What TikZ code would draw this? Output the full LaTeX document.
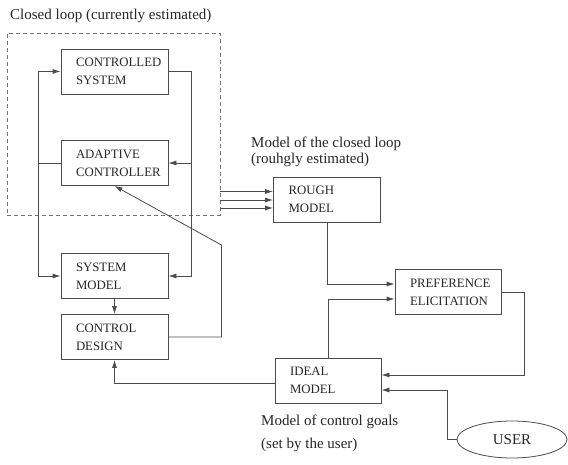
\documentclass[tikz,border=0pt]{standalone}
\usepackage{fontspec}
\setmainfont{Liberation Serif}
\usetikzlibrary{arrows.meta,calc,shapes.geometric}
\newcommand\twolines[2]{\hspace*{15pt}#1\\\hspace*{15pt}#2}
\begin{document}
\begin{tikzpicture}[x=1pt,y=-1pt,
  blk/.style={draw=black!70,line width=0.8pt,rectangle,minimum height=45pt,text width=107pt,inner xsep=0pt,inner ysep=0pt,align=left,font=\fontsize{12.8}{18}\selectfont,text=black!85},
  lbl/.style={font=\fontsize{15}{18}\selectfont,text=black!85,anchor=base west,inner sep=0pt},
  arr/.style={draw=black!70,line width=0.8pt,-{Latex[length=8pt,width=5pt]}},
  ln/.style={draw=black!70,line width=0.8pt}]
\useasboundingbox (0,0) rectangle (568,465);
% dashed closed-loop frame
\node[draw=black!55,line width=0.7pt,dash pattern=on 4pt off 3pt,minimum width=213pt,minimum height=182pt,inner sep=0pt] (loop) at (113.5,124) {};
% blocks
\node[blk] (CS) at (114.5,71.5) {\twolines{CONTROLLED}{SYSTEM}};
\node[blk] (AC) at (114.5,163) {\twolines{ADAPTIVE}{CONTROLLER}};
\node[blk] (SM) at (114.5,276) {\twolines{SYSTEM}{MODEL}};
\node[blk] (CD) at (114.5,337) {\twolines{CONTROL}{DESIGN}};
\node[blk] (RM) at (327,199.5) {\twolines{ROUGH}{MODEL}};
\node[blk,text width=106pt] (PE) at (448,292) {\twolines{PREFERENCE}{ELICITATION}};
\node[blk,text width=106pt] (IM) at (328,380.5) {\twolines{IDEAL}{MODEL}};
\node[ellipse,draw=black!70,line width=0.8pt,minimum width=110pt,minimum height=37pt,inner sep=0pt,font=\fontsize{15}{18}\selectfont,text=black!85] (USER) at (512,439.5) {USER};
% labels
\node[lbl] (t1) at (10,20) {Closed loop (currently estimated)};
\node[lbl] (t2) at (251,148) {Model of the closed loop};
\node[lbl] (t3) at (251,164) {(rouhgly estimated)};
\node[lbl] (t4) at (261,425) {Model of control goals};
\node[lbl] (t5) at (261,448) {(set by the user)};
% left loop
\draw[arr] (AC.west) -- ++(-22,0) |- (CS.west);
\draw[arr] ($(AC.west)+(-22,0)$) |- (SM.west);
% right loop
\draw[arr] (CS.east) -- ++(23,0) |- (SM.east);
\draw[arr] ($(CS.east)+(23,0)$) |- (AC.east);
% model to design
\draw[arr] (SM.south) -- (CD.north);
\draw[arr] (CD.east) -- ++(53,0) -- ++(0,-92) -- (AC.south);
% closed loop to rough model
\coordinate (r1) at ($(RM.west)+(0,-8)$);
\coordinate (r2) at ($(RM.west)+(0,0.5)$);
\coordinate (r3) at ($(RM.west)+(0,8.5)$);
\draw[arr] (loop.east |- r1) -- (r1);
\draw[arr] (loop.east |- r2) -- (r2);
\draw[arr] (loop.east |- r3) -- (r3);
% preference elicitation
\draw[arr] (RM.south) |- ($(PE.west)+(0,-8)$);
\draw[arr] (IM.north) |- ($(PE.west)+(0,7)$);
\draw[arr] (PE.east) -- ++(23,0) |- ($(IM.east)+(0,-5.5)$);
\draw[arr] (USER.west) -- ++(-9,0) |- ($(IM.east)+(0,9.5)$);
\draw[arr] ($(IM.west)+(0,2.5)$) -| (CD.south);
\end{tikzpicture}
\end{document}
